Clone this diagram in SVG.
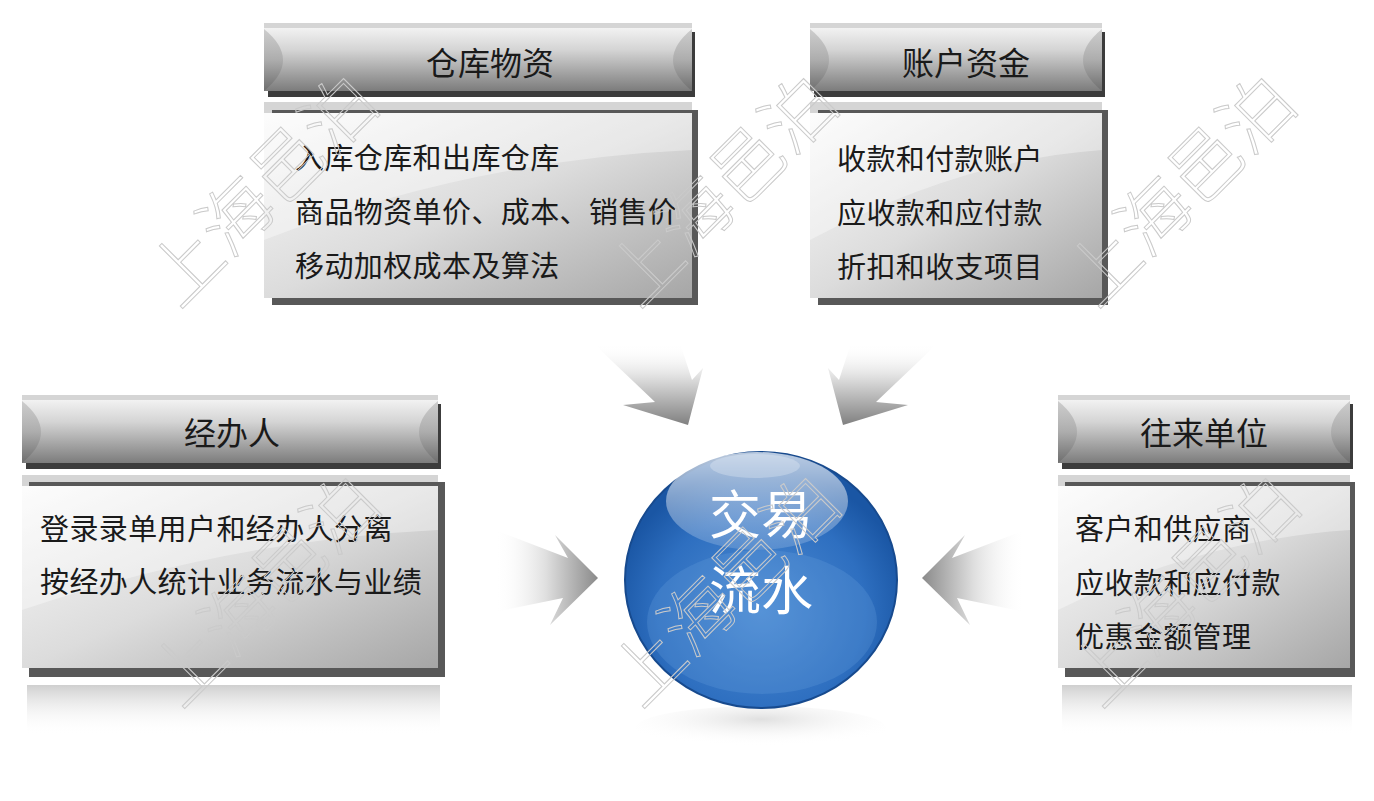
<svg xmlns="http://www.w3.org/2000/svg" width="1374" height="801" viewBox="0 0 1374 801">
<defs>
<linearGradient id="hdr" x1="0" y1="0" x2="0" y2="1">
<stop offset="0" stop-color="#f2f2f2"/><stop offset="0.35" stop-color="#d4d4d4"/><stop offset="1" stop-color="#7c7c7c"/>
</linearGradient>
<linearGradient id="cap" x1="0" y1="0" x2="0" y2="1">
<stop offset="0" stop-color="#c4c4c4"/><stop offset="0.5" stop-color="#a8a8a8"/><stop offset="1" stop-color="#6a6a6a"/>
</linearGradient>
<linearGradient id="body" x1="0" y1="0" x2="1" y2="1">
<stop offset="0" stop-color="#fbfbfb"/><stop offset="0.5" stop-color="#dcdcdc"/><stop offset="1" stop-color="#a6a6a6"/>
</linearGradient>
<linearGradient id="refl" x1="0" y1="0" x2="0" y2="1">
<stop offset="0" stop-color="#cfcfcf"/><stop offset="1" stop-color="#ffffff" stop-opacity="0"/>
</linearGradient>
<linearGradient id="arL" gradientUnits="userSpaceOnUse" x1="495" y1="0" x2="598" y2="0">
<stop offset="0" stop-color="#ffffff" stop-opacity="0"/><stop offset="0.5" stop-color="#dedede"/><stop offset="1" stop-color="#8a8a8a"/>
</linearGradient>
<linearGradient id="arR" gradientUnits="userSpaceOnUse" x1="1025" y1="0" x2="922" y2="0">
<stop offset="0" stop-color="#ffffff" stop-opacity="0"/><stop offset="0.5" stop-color="#dedede"/><stop offset="1" stop-color="#8a8a8a"/>
</linearGradient>
<linearGradient id="arT" gradientUnits="userSpaceOnUse" x1="0" y1="343" x2="0" y2="425">
<stop offset="0" stop-color="#ffffff" stop-opacity="0"/><stop offset="0.45" stop-color="#dadada"/><stop offset="1" stop-color="#808080"/>
</linearGradient>
<radialGradient id="ball" cx="0.5" cy="0.62" r="0.55">
<stop offset="0" stop-color="#4f8dd4"/><stop offset="0.7" stop-color="#2e6fc0"/><stop offset="1" stop-color="#1a56a4"/>
</radialGradient>
<linearGradient id="shine" x1="0" y1="0" x2="0" y2="1">
<stop offset="0" stop-color="#ffffff" stop-opacity="0.7"/><stop offset="1" stop-color="#ffffff" stop-opacity="0.15"/>
</linearGradient>
<radialGradient id="ballRefl" cx="0.5" cy="0.3" r="0.6">
<stop offset="0" stop-color="#d8d8d8"/><stop offset="1" stop-color="#ffffff" stop-opacity="0"/>
</radialGradient>
<style>
.t{font-family:"Noto Sans CJK SC","Noto Sans",sans-serif;fill:#1a1a1a;dominant-baseline:central}
.h{font-size:32px;text-anchor:middle}
.b{font-size:29px;letter-spacing:0.4px}
.band{fill:#d5d5d5}
.hsh{fill:#3c3c3c}
.bsh{fill:#585858}
.gloss{fill:#ffffff;opacity:0.35}
.ball-t{font-size:52px;fill:#ffffff;text-anchor:middle}
.wm{font-family:"Noto Sans CJK SC",sans-serif;font-size:72px;font-weight:300;fill:none;stroke:#cacaca;stroke-width:1;text-anchor:middle;dominant-baseline:central}
</style>
</defs>
<rect width="1374" height="801" fill="#ffffff"/>

<g id="connectors">
<path d="M495,530 L568,558 L555,535 L598,578 L550,625 L563,598 L495,612 Z" fill="url(#arL)"/>
<path d="M1025,530 L952,558 L965,535 L922,578 L970,625 L957,598 L1025,612 Z" fill="url(#arR)"/>
<path d="M593,343 L655,402 L623,405 L688,425 L703,368 L692,380 L680,343 Z" fill="url(#arT)"/>
<path d="M938,343 L876,402 L908,405 L843,425 L828,368 L839,380 L851,343 Z" fill="url(#arT)"/>
</g>

<g id="node-warehouse">
<rect class="band" x="264" y="23" width="428" height="6"/>
<rect class="hsh" x="268" y="32" width="427" height="65"/>
<rect x="264" y="28" width="428" height="63" fill="url(#hdr)"/>
<path d="M264,29 Q302,60 264,91 Z" fill="url(#cap)" opacity="0.8"/>
<path d="M692,29 Q654,60 692,91 Z" fill="url(#cap)" opacity="0.8"/>
<text class="t h" x="490" y="61">仓库物资</text>
<rect class="band" x="264" y="102" width="428" height="12"/>
<rect class="bsh" x="272" y="110" width="426" height="195"/>
<rect x="264" y="113" width="428" height="185" fill="url(#body)"/>
<path class="gloss" d="M264,113 H692 V150 Q470,160 264,240 Z"/>
<text class="t b" x="295" y="156">入库仓库和出库仓库</text>
<text class="t b" x="295" y="210">商品物资单价、成本、销售价</text>
<text class="t b" x="295" y="264">移动加权成本及算法</text>
</g>

<g id="node-account">
<rect class="band" x="810" y="23" width="292" height="6"/>
<rect class="hsh" x="814" y="32" width="291" height="65"/>
<rect x="810" y="28" width="292" height="63" fill="url(#hdr)"/>
<path d="M810,29 Q848,60 810,91 Z" fill="url(#cap)" opacity="0.8"/>
<path d="M1102,29 Q1064,60 1102,91 Z" fill="url(#cap)" opacity="0.8"/>
<text class="t h" x="966" y="61">账户资金</text>
<rect class="band" x="810" y="102" width="292" height="12"/>
<rect class="bsh" x="818" y="110" width="290" height="195"/>
<rect x="810" y="113" width="292" height="185" fill="url(#body)"/>
<path class="gloss" d="M810,113 H1102 V150 Q960,160 810,240 Z"/>
<text class="t b" x="837" y="157">收款和付款账户</text>
<text class="t b" x="837" y="211">应收款和应付款</text>
<text class="t b" x="837" y="265">折扣和收支项目</text>
</g>

<g id="node-operator">
<rect class="band" x="22" y="395" width="416" height="6"/>
<rect class="hsh" x="26" y="404" width="415" height="65"/>
<rect x="22" y="400" width="416" height="63" fill="url(#hdr)"/>
<path d="M22,401 Q60,432 22,463 Z" fill="url(#cap)" opacity="0.8"/>
<path d="M438,401 Q400,432 438,463 Z" fill="url(#cap)" opacity="0.8"/>
<text class="t h" x="232" y="431">经办人</text>
<rect class="band" x="22" y="475" width="416" height="12"/>
<rect class="bsh" x="29" y="482" width="416" height="195"/>
<rect x="22" y="486" width="416" height="182" fill="url(#body)"/>
<path class="gloss" d="M22,486 H438 V530 Q230,540 22,610 Z"/>
<text class="t b" x="40" y="527">登录录单用户和经办人分离</text>
<text class="t b" x="40" y="580">按经办人统计业务流水与业绩</text>
<rect x="27" y="685" width="413" height="50" fill="url(#refl)"/>
</g>

<g id="node-partner">
<rect class="band" x="1058" y="395" width="292" height="6"/>
<rect class="hsh" x="1062" y="404" width="291" height="65"/>
<rect x="1058" y="400" width="292" height="63" fill="url(#hdr)"/>
<path d="M1058,401 Q1096,432 1058,463 Z" fill="url(#cap)" opacity="0.8"/>
<path d="M1350,401 Q1312,432 1350,463 Z" fill="url(#cap)" opacity="0.8"/>
<text class="t h" x="1204" y="431">往来单位</text>
<rect class="band" x="1058" y="475" width="292" height="12"/>
<rect class="bsh" x="1065" y="482" width="290" height="195"/>
<rect x="1058" y="486" width="292" height="182" fill="url(#body)"/>
<path class="gloss" d="M1058,486 H1350 V530 Q1200,540 1058,610 Z"/>
<text class="t b" x="1075" y="527">客户和供应商</text>
<text class="t b" x="1075" y="581">应收款和应付款</text>
<text class="t b" x="1075" y="635">优惠金额管理</text>
<rect x="1062" y="685" width="290" height="50" fill="url(#refl)"/>
</g>

<g id="node-center">
<ellipse cx="761" cy="728" rx="125" ry="22" fill="url(#ballRefl)" opacity="0.8"/>
<ellipse cx="761" cy="580" rx="136" ry="128" fill="url(#ball)" stroke="#174a8e" stroke-width="2"/>
<ellipse cx="762" cy="622" rx="115" ry="72" fill="#6aa2e0" opacity="0.25"/>
<ellipse cx="757" cy="501" rx="91" ry="49" fill="url(#shine)"/>
<ellipse cx="755" cy="466" rx="45" ry="12" fill="#ffffff" opacity="0.25"/>
<text class="t ball-t" x="761" y="511">交易</text>
<text class="t ball-t" x="761" y="587">流水</text>
</g>

<g id="watermarks">
<text class="wm" transform="translate(258,186) rotate(-45)">上海邑泊</text>
<text class="wm" transform="translate(718,186) rotate(-45)">上海邑泊</text>
<text class="wm" transform="translate(1176,186) rotate(-45)">上海邑泊</text>
<text class="wm" transform="translate(260,586) rotate(-45)">上海邑泊</text>
<text class="wm" transform="translate(720,586) rotate(-45)">上海邑泊</text>
<text class="wm" transform="translate(1180,586) rotate(-45)">上海邑泊</text>
</g>
</svg>
